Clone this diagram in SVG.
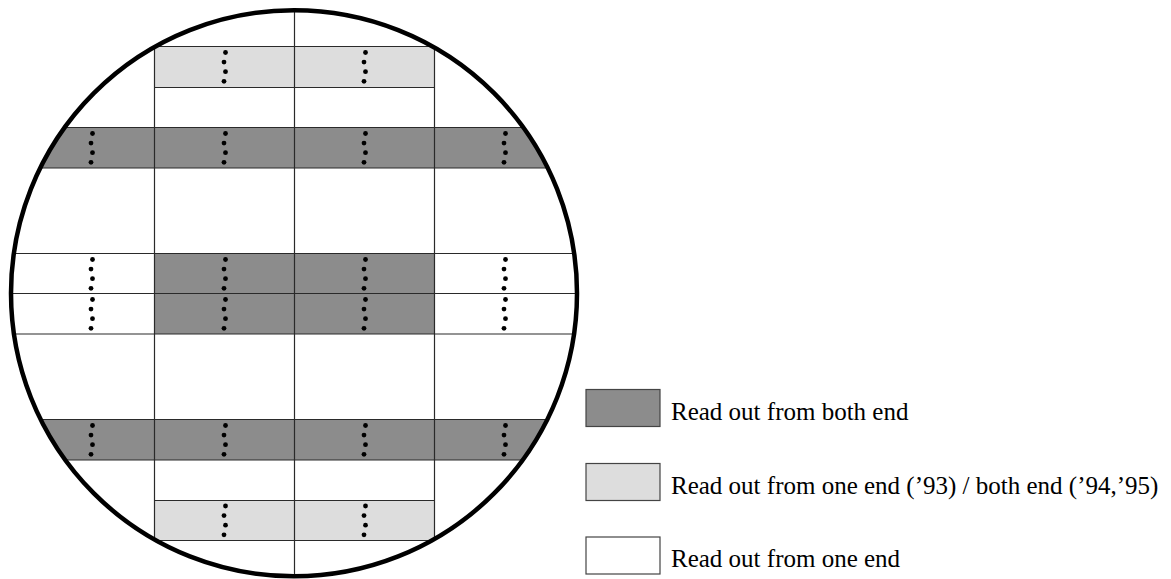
<svg xmlns="http://www.w3.org/2000/svg" xmlns:xlink="http://www.w3.org/1999/xlink" width="1171" height="579" viewBox="0 0 1171 579">
<style>
.dark{fill:#8c8c8c}
.light{fill:#dddddd}
.white{fill:#ffffff}
.ln{stroke:#2a2a2a;stroke-width:1.2;fill:none}
.box{stroke:#444444;stroke-width:1.2}
.lbl{font-family:"Liberation Serif","Times New Roman",serif;font-size:25px;fill:#000}
</style>
<defs>
<clipPath id="wafer"><circle cx="294" cy="293.3" r="283"/></clipPath>
<g id="dots">
<circle cx="1.5" cy="6" r="2.4"/>
<circle cx="0" cy="15.6" r="2.4"/>
<circle cx="1.5" cy="25.2" r="2.4"/>
<circle cx="0" cy="34.8" r="2.4"/>
</g>
</defs>
<rect width="1171" height="579" fill="#fff"/>
<g id="wafer-map">
<g id="bands" clip-path="url(#wafer)">
<rect class="light" x="154.5" y="46.5" width="280" height="41"/>
<rect class="dark" x="0" y="127.5" width="600" height="40.5"/>
<rect class="dark" x="154.5" y="253.5" width="280" height="80.5"/>
<rect class="dark" x="0" y="419.5" width="600" height="40.5"/>
<rect class="light" x="154.5" y="500.5" width="280" height="40"/>
</g>
<g id="grid" clip-path="url(#wafer)">
<line class="ln" x1="154.5" y1="46.5" x2="434.5" y2="46.5"/>
<line class="ln" x1="154.5" y1="87.5" x2="434.5" y2="87.5"/>
<line class="ln" x1="0" y1="127.5" x2="600" y2="127.5"/>
<line class="ln" x1="0" y1="168" x2="600" y2="168"/>
<line class="ln" x1="0" y1="253.5" x2="600" y2="253.5"/>
<line class="ln" x1="0" y1="293.5" x2="600" y2="293.5"/>
<line class="ln" x1="0" y1="334" x2="600" y2="334"/>
<line class="ln" x1="0" y1="419.5" x2="600" y2="419.5"/>
<line class="ln" x1="0" y1="460" x2="600" y2="460"/>
<line class="ln" x1="154.5" y1="500.5" x2="434.5" y2="500.5"/>
<line class="ln" x1="154.5" y1="540.5" x2="434.5" y2="540.5"/>
<line class="ln" x1="154.5" y1="46.5" x2="154.5" y2="540.5"/>
<line class="ln" x1="294.5" y1="0" x2="294.5" y2="579"/>
<line class="ln" x1="434.5" y1="46.5" x2="434.5" y2="540.5"/>
</g>
<g id="readout-dots" fill="#000">
<use xlink:href="#dots" x="224" y="46.5"/>
<use xlink:href="#dots" x="364" y="46.5"/>
<use xlink:href="#dots" x="91" y="127.5"/>
<use xlink:href="#dots" x="224" y="127.5"/>
<use xlink:href="#dots" x="364" y="127.5"/>
<use xlink:href="#dots" x="504" y="127.5"/>
<use xlink:href="#dots" x="91" y="253.5"/>
<use xlink:href="#dots" x="224" y="253.5"/>
<use xlink:href="#dots" x="364" y="253.5"/>
<use xlink:href="#dots" x="504" y="253.5"/>
<use xlink:href="#dots" x="91" y="293.5"/>
<use xlink:href="#dots" x="224" y="293.5"/>
<use xlink:href="#dots" x="364" y="293.5"/>
<use xlink:href="#dots" x="504" y="293.5"/>
<use xlink:href="#dots" x="91" y="419.5"/>
<use xlink:href="#dots" x="224" y="419.5"/>
<use xlink:href="#dots" x="364" y="419.5"/>
<use xlink:href="#dots" x="504" y="419.5"/>
<use xlink:href="#dots" x="224" y="500"/>
<use xlink:href="#dots" x="364" y="500"/>
</g>
<circle id="wafer-edge" cx="294" cy="293.3" r="283" fill="none" stroke="#000" stroke-width="4.5"/>
</g>
<g id="legend-both">
<rect class="dark box" x="586" y="389.5" width="74" height="37"/>
<text class="lbl" x="671" y="419.5">Read out from both end</text>
</g>
<g id="legend-mixed">
<rect class="light box" x="586" y="463.5" width="74" height="37"/>
<text class="lbl" x="671" y="493.5">Read out from one end (’93) / both end (’94,’95)</text>
</g>
<g id="legend-one">
<rect class="white box" x="586" y="537" width="74" height="37"/>
<text class="lbl" x="671" y="567">Read out from one end</text>
</g>
</svg>
